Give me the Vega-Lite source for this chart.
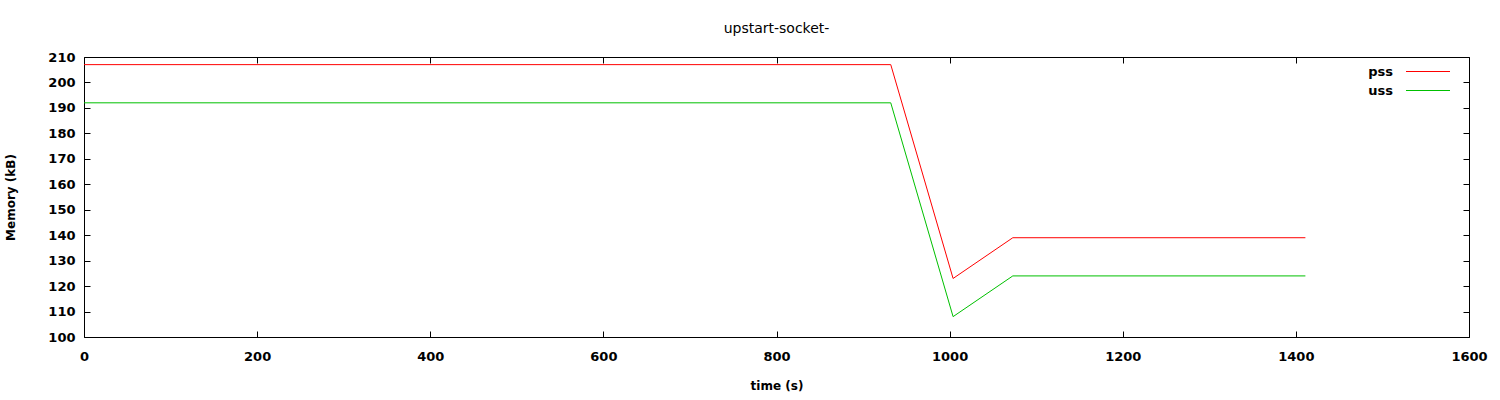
{
  "$schema": "https://vega.github.io/schema/vega-lite/v6.json",
  "width": 1385,
  "height": 280,
  "autosize": {"type": "none"},
  "padding": {"left": 84, "top": 57, "right": 31, "bottom": 63},
  "background": "white",
  "title": {"text": "upstart-socket-", "anchor": "middle", "font": "DejaVu Sans", "fontSize": 14, "fontWeight": "normal", "color": "black", "offset": 15},
  "config": {
    "view": {"stroke": null},
    "axis": {"grid": false, "domainColor": "black", "tickColor": "black", "labelColor": "black", "titleColor": "black", "labelFont": "DejaVu Sans", "labelFontSize": 13, "labelFontWeight": "bold", "titleFont": "DejaVu Sans", "titleFontSize": 12, "titleFontWeight": "bold", "tickSize": -6, "domainWidth": 1, "tickWidth": 1, "labelFlush": false},
    "legend": {"labelFont": "DejaVu Sans", "labelFontSize": 13, "labelFontWeight": "bold", "labelColor": "black"}
  },
  "data": {"values": [
    {"time": 0, "series": "pss", "mem": 207},
    {"time": 932, "series": "pss", "mem": 207},
    {"time": 1004, "series": "pss", "mem": 123},
    {"time": 1073, "series": "pss", "mem": 139},
    {"time": 1411, "series": "pss", "mem": 139},
    {"time": 0, "series": "uss", "mem": 192},
    {"time": 932, "series": "uss", "mem": 192},
    {"time": 1004, "series": "uss", "mem": 108},
    {"time": 1073, "series": "uss", "mem": 124},
    {"time": 1411, "series": "uss", "mem": 124}
  ]},
  "layer": [
    {
      "mark": {"type": "line", "strokeWidth": 1, "interpolate": "linear"},
      "encoding": {
        "x": {"field": "time", "type": "quantitative", "scale": {"domain": [0, 1600], "nice": false, "zero": false}, "axis": {"orient": "bottom", "values": [0,200,400,600,800,1000,1200,1400,1600], "title": "time (s)", "labelPadding": 19, "titlePadding": 17, "format": "d"}},
        "y": {"field": "mem", "type": "quantitative", "scale": {"domain": [100, 210], "nice": false, "zero": false}, "axis": {"orient": "left", "values": [100,110,120,130,140,150,160,170,180,190,200,210], "title": "Memory (kB)", "labelPadding": 15, "titlePadding": 30, "format": "d"}},
        "color": {"field": "series", "type": "nominal", "scale": {"domain": ["pss", "uss"], "range": ["#ff0000", "#00c000"]},
          "legend": {"title": null, "orient": "none", "legendX": 1337.5, "legendY": 8, "symbolType": "M-4,0H4", "symbolSize": 121, "symbolStrokeWidth": 1, "labelAlign": "right", "labelOffset": -41.5, "rowPadding": 5, "padding": 0}}
      }
    },
    {
      "mark": {"type": "line", "opacity": 0},
      "encoding": {
        "x": {"field": "time", "type": "quantitative", "axis": {"orient": "top", "values": [0,200,400,600,800,1000,1200,1400,1600], "labels": false, "title": null}},
        "y": {"field": "mem", "type": "quantitative", "axis": {"orient": "right", "values": [100,110,120,130,140,150,160,170,180,190,200,210], "labels": false, "title": null}},
        "detail": {"field": "series"}
      }
    }
  ],
  "resolve": {"axis": {"x": "independent", "y": "independent"}}
}
